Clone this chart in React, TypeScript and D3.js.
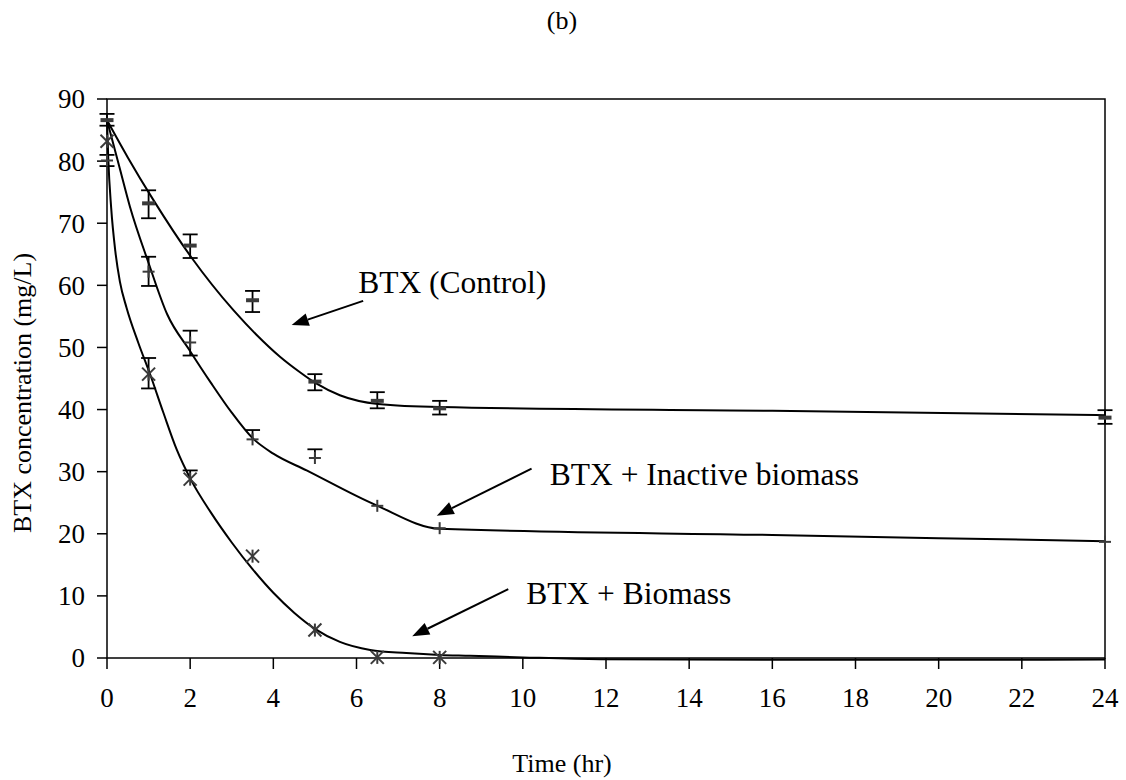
import React from 'react';
import * as d3 from 'd3';

// ---- data ----
const times = [0, 1, 2, 3.5, 5, 6.5, 8, 24];
const controlMean = [86.6, 73.2, 66.4, 57.6, 44.5, 41.4, 40.2, 38.7];
const controlErrPlus = [1.0, 2.1, 1.8, 1.5, 1.2, 1.4, 1.2, 1.2];
const controlErrMinus = [0.9, 2.4, 2.0, 1.9, 1.4, 1.2, 1.0, 1.0];

const inactiveMean = [80.1, 62.2, 50.8, 35.2, 32.2, 24.5, 20.9, 18.7];
const inactiveErrPlus = [0.9, 2.4, 1.9, 1.5, 1.4, 0, 0, 0];
const inactiveErrMinus = [0.9, 2.3, 2.1, 0, 0, 0, 0, 0];

const biomassTimes = [0, 1, 2, 3.5, 5, 6.5, 8];
const biomassMean = [83.2, 45.7, 28.8, 16.4, 4.5, 0.1, 0.1];
const biomassErrPlus = [0, 2.6, 1.4, 0, 0, 0, 0];
const biomassErrMinus = [0, 2.3, 0, 0, 0, 0, 0];

// fitted curves (time, concentration)
const controlFit: [number, number][] = [
  [0, 86.6], [0.5, 80.6], [1.11, 73.8], [2.04, 64.4], [3.04, 56.0], [3.6, 52.0],
  [4.16, 48.5], [4.6, 46.2], [5.03, 44.2], [5.6, 42.3], [6.52, 40.9], [8, 40.4],
  [16, 39.8], [24, 39.1],
];
const inactiveFit: [number, number][] = [
  [0, 86.6], [0.3, 79.0], [0.55, 72.7], [1.0, 63.6], [1.45, 55.3], [2.0, 49.4],
  [2.5, 44.3], [3.0, 39.5], [3.5, 35.4], [4.0, 32.9], [4.8, 30.2], [6.47, 24.6],
  [8, 20.8], [16, 19.8], [24, 18.8],
];
const biomassFit: [number, number][] = [
  [0, 86.6], [0.03, 80.5], [0.1, 72.5], [0.2, 65.5], [0.31, 60.6], [0.47, 56.4],
  [0.75, 50.8], [1.03, 45.8], [1.35, 39.6], [1.68, 33.5], [2.01, 28.8], [2.5, 23.4],
  [3.0, 18.6], [3.5, 14.3], [4.0, 10.5], [4.5, 7.3], [5.0, 4.7], [5.6, 2.6],
  [6.33, 1.3], [7.2, 0.8], [8, 0.5], [8.73, 0.37], [10, 0.1], [11.86, -0.2],
  [16, -0.3], [24, -0.25],
];

const xTicks = [0, 2, 4, 6, 8, 10, 12, 14, 16, 18, 20, 22, 24];
const yTicks = [0, 10, 20, 30, 40, 50, 60, 70, 80, 90];

const annotationLabels = ['BTX (Control)', 'BTX + Inactive biomass', 'BTX + Biomass'];
const annotationTextAt: [number, number][] = [[6.04, 58.7], [10.65, 27.9], [10.08, 8.7]];
const arrowFrom: [number, number][] = [[6.16, 57.5], [10.21, 30.5], [9.65, 11.1]];
const arrowTo: [number, number][] = [[4.44, 53.6], [7.93, 22.9], [7.34, 3.5]];

const chartTitle = '(b)';
const xTitle = 'Time (hr)';
const yTitle = 'BTX concentration (mg/L)';

// ---- layout ----
const W = 1126;
const H = 780;
const L = 107, R = 1105, T = 99, B = 658;
const FONT = "'Liberation Serif', 'Times New Roman', 'DejaVu Serif', serif";

export default function App() {
  const x = d3.scaleLinear().domain([0, 24]).range([L, R]);
  const y = d3.scaleLinear().domain([0, 90]).range([B, T]);
  const line = d3
    .line<[number, number]>()
    .x((d) => x(d[0]))
    .y((d) => y(d[1]))
    .curve(d3.curveMonotoneX);

  const markColor = '#3a3a3a';
  const capW = 7.5;

  const errorBar = (t: number, m: number, ep: number, em: number, key: string) => {
    const cx = x(t);
    const parts: any[] = [];
    if (ep > 0) {
      parts.push(<line key={key + 'vu'} x1={cx} x2={cx} y1={y(m)} y2={y(m + ep)} stroke="#000" strokeWidth={1.8} />);
      parts.push(<line key={key + 'cu'} x1={cx - capW} x2={cx + capW} y1={y(m + ep)} y2={y(m + ep)} stroke="#000" strokeWidth={1.8} />);
    }
    if (em > 0) {
      parts.push(<line key={key + 'vd'} x1={cx} x2={cx} y1={y(m)} y2={y(m - em)} stroke="#000" strokeWidth={1.8} />);
      parts.push(<line key={key + 'cd'} x1={cx - capW} x2={cx + capW} y1={y(m - em)} y2={y(m - em)} stroke="#000" strokeWidth={1.8} />);
    }
    return parts;
  };

  const arrowHead = (from: [number, number], to: [number, number]) => {
    const x1 = x(from[0]), y1 = y(from[1]);
    const x2 = x(to[0]), y2 = y(to[1]);
    const ang = Math.atan2(y2 - y1, x2 - x1);
    const len = 17, half = 6.5;
    const bx = x2 - len * Math.cos(ang);
    const by = y2 - len * Math.sin(ang);
    const px = -Math.sin(ang), py = Math.cos(ang);
    return {
      line: [x1, y1, bx, by],
      pts: `${x2},${y2} ${bx + px * half},${by + py * half} ${bx - px * half},${by - py * half}`,
    };
  };

  const txt = { fontFamily: FONT };

  return (
    <svg
      width={W}
      height={H}
      style={{ position: 'absolute', left: 0, top: 0, background: '#fff', fontFamily: FONT }}
    >
      <rect x={0} y={0} width={W} height={H} fill="#fff" />
      <text x={562} y={29} textAnchor="middle" fontSize={26} style={txt}>{chartTitle}</text>

      {/* frame */}
      <rect x={L} y={T} width={R - L} height={B - T} fill="none" stroke="#000" strokeWidth={1.5} />

      {/* y axis */}
      {yTicks.map((v) => (
        <g key={'y' + v}>
          <line x1={L - 10} x2={L} y1={y(v)} y2={y(v)} stroke="#000" strokeWidth={1.5} />
          <text x={85} y={y(v)} dy="0.35em" textAnchor="end" fontSize={27} style={txt}>{v}</text>
        </g>
      ))}
      {/* x axis */}
      {xTicks.map((t) => (
        <g key={'x' + t}>
          <line x1={x(t)} x2={x(t)} y1={B} y2={B + 11} stroke="#000" strokeWidth={1.5} />
          <text x={x(t)} y={707} textAnchor="middle" fontSize={27} style={txt}>{t}</text>
        </g>
      ))}

      <text x={562} y={772} textAnchor="middle" fontSize={26} style={txt}>{xTitle}</text>
      <text
        transform={`translate(31, 393) rotate(-90)`}
        textAnchor="middle"
        fontSize={26}
        style={txt}
      >
        {yTitle}
      </text>

      {/* fitted curves */}
      <path d={line(controlFit) || ''} fill="none" stroke="#000" strokeWidth={2} />
      <path d={line(inactiveFit) || ''} fill="none" stroke="#000" strokeWidth={2} />
      <path d={line(biomassFit) || ''} fill="none" stroke="#000" strokeWidth={2} />

      {/* control: dash markers */}
      {times.map((t, i) => (
        <g key={'c' + i}>
          {errorBar(t, controlMean[i], controlErrPlus[i], controlErrMinus[i], 'c' + i)}
          <rect x={x(t) - 6.5} y={y(controlMean[i]) - 2} width={13} height={4} fill={markColor} />
        </g>
      ))}

      {/* inactive biomass: plus markers */}
      {times.map((t, i) => (
        <g key={'n' + i}>
          {errorBar(t, inactiveMean[i], inactiveErrPlus[i], inactiveErrMinus[i], 'n' + i)}
          <line x1={x(t) - 6} x2={x(t) + 6} y1={y(inactiveMean[i])} y2={y(inactiveMean[i])} stroke={markColor} strokeWidth={2} />
          <line x1={x(t)} x2={x(t)} y1={y(inactiveMean[i]) - 6} y2={y(inactiveMean[i]) + 6} stroke={markColor} strokeWidth={2} />
        </g>
      ))}

      {/* biomass: asterisk markers */}
      {biomassTimes.map((t, i) => {
        const cx = x(t), cy = y(biomassMean[i]);
        const s = 6.5;
        return (
          <g key={'b' + i}>
            {errorBar(t, biomassMean[i], biomassErrPlus[i], biomassErrMinus[i], 'b' + i)}
            <line x1={cx} x2={cx} y1={cy - s} y2={cy + s} stroke={markColor} strokeWidth={2} />
            <line x1={cx - s} x2={cx + s} y1={cy - s} y2={cy + s} stroke={markColor} strokeWidth={2} />
            <line x1={cx - s} x2={cx + s} y1={cy + s} y2={cy - s} stroke={markColor} strokeWidth={2} />
          </g>
        );
      })}

      {/* annotations */}
      {annotationLabels.map((lab, i) => {
        const a = arrowHead(arrowFrom[i], arrowTo[i]);
        return (
          <g key={'a' + i}>
            <line x1={a.line[0]} y1={a.line[1]} x2={a.line[2]} y2={a.line[3]} stroke="#000" strokeWidth={2} />
            <polygon points={a.pts} fill="#000" />
            <text x={x(annotationTextAt[i][0])} y={y(annotationTextAt[i][1])} fontSize={31.5} style={txt}>{lab}</text>
          </g>
        );
      })}
    </svg>
  );
}
